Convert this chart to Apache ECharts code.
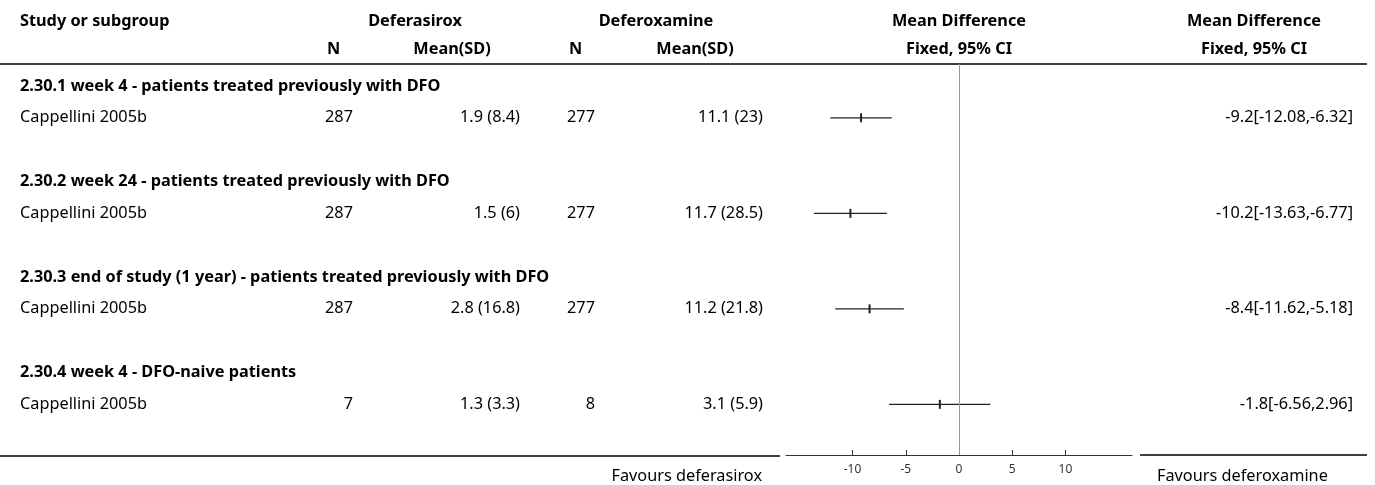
<!DOCTYPE html>
<html>
<head>
<meta charset="utf-8">
<script src="https://cdn.jsdelivr.net/npm/echarts@6/dist/echarts.min.js"></script>
<style>
html,body{margin:0;padding:0;background:#fff;}
#chart{width:1375px;height:485px;}
</style>
</head>
<body>
<div id="chart"></div>
<script>
// ---- data ----
const groups = [
  '2.30.1 week 4 - patients treated previously with DFO',
  '2.30.2 week 24 - patients treated previously with DFO',
  '2.30.3 end of study (1 year) - patients treated previously with DFO',
  '2.30.4 week 4 - DFO-naive patients'
];
const studies = ['Cappellini 2005b', 'Cappellini 2005b', 'Cappellini 2005b', 'Cappellini 2005b'];
const n1 = [287, 287, 287, 7];
const mean1 = ['1.9 (8.4)', '1.5 (6)', '2.8 (16.8)', '1.3 (3.3)'];
const n2 = [277, 277, 277, 8];
const mean2 = ['11.1 (23)', '11.7 (28.5)', '11.2 (21.8)', '3.1 (5.9)'];
const md = [-9.2, -10.2, -8.4, -1.8];
const ciLow = [-12.08, -13.63, -11.62, -6.56];
const ciHigh = [-6.32, -6.77, -5.18, 2.96];
const tickValues = [-10, -5, 0, 5, 10];
const favoursLeft = 'Favours deferasirox';
const favoursRight = 'Favours deferoxamine';

// ---- build ----
const FONT = '"Noto Sans", sans-serif';
const FS = 16.3;
const TXT = '#000';

const rowData = [];
groups.forEach((g, k) => {
  rowData.push({ type: 'group', row: 3 * k, label: g });
  rowData.push({ type: 'study', row: 3 * k + 1, k: k });
});

const ciData = md.map((m, k) => [m, ciLow[k], ciHigh[k], 3 * k + 1]);

function txt(x, y, s, align, bold) {
  return {
    type: 'text',
    style: {
      x: x, y: y, text: s, align: align, verticalAlign: 'middle',
      font: (bold ? 'bold ' : '') + FS + 'px ' + FONT, fill: TXT
    }
  };
}

const chart = echarts.init(document.getElementById('chart'), null, { renderer: 'canvas' });

const option = {
  animation: false,
  backgroundColor: '#fff',
  grid: { left: 786, width: 346, top: 64, height: 391, containLabel: false },
  xAxis: {
    type: 'value', min: -16.25, max: 16.25,
    axisLine: { show: true, onZero: false, lineStyle: { color: '#333', width: 1 } },
    axisTick: { show: true, inside: true, length: 5, customValues: tickValues, lineStyle: { color: '#333' } },
    axisLabel: { show: true, customValues: tickValues, margin: 9, fontSize: 12, color: '#333', fontFamily: FONT },
    splitLine: { show: false }
  },
  yAxis: {
    type: 'value', inverse: true, min: -0.69, max: 11.59, show: false
  },
  graphic: [
    txt(20, 21, 'Study or subgroup', 'left', true),
    txt(415, 21, 'Deferasirox', 'center', true),
    txt(656, 21, 'Deferoxamine', 'center', true),
    txt(959, 21, 'Mean Difference', 'center', true),
    txt(1254, 21, 'Mean Difference', 'center', true),
    txt(327, 49, 'N', 'left', true),
    txt(452, 49, 'Mean(SD)', 'center', true),
    txt(569, 49, 'N', 'left', true),
    txt(695, 49, 'Mean(SD)', 'center', true),
    txt(959, 49, 'Fixed, 95% CI', 'center', true),
    txt(1254, 49, 'Fixed, 95% CI', 'center', true),
    { type: 'line', shape: { x1: 0, y1: 64, x2: 1367, y2: 64 }, style: { stroke: '#000', lineWidth: 1.5 } },
    { type: 'line', shape: { x1: 0, y1: 456, x2: 780, y2: 456 }, style: { stroke: '#000', lineWidth: 1.5 } },
    { type: 'line', shape: { x1: 1140, y1: 455, x2: 1367, y2: 455 }, style: { stroke: '#000', lineWidth: 1.5 } },
    txt(762, 476, favoursLeft, 'right', false),
    txt(1157, 476, favoursRight, 'left', false)
  ],
  series: [
    {
      type: 'custom',
      name: 'table',
      clip: false,
      silent: true,
      data: rowData.map(r => [0, r.row]),
      encode: { x: 0, y: 1 },
      renderItem: function (params, api) {
        const r = rowData[params.dataIndex];
        const y = api.coord([0, r.row])[1];
        if (r.type === 'group') {
          return { type: 'group', children: [txt(20, y, r.label, 'left', true)] };
        }
        const k = r.k;
        return {
          type: 'group',
          children: [
            txt(20, y, studies[k], 'left', false),
            txt(353, y, String(n1[k]), 'right', false),
            txt(520, y, mean1[k], 'right', false),
            txt(595, y, String(n2[k]), 'right', false),
            txt(763, y, mean2[k], 'right', false),
            txt(1353, y, md[k] + '[' + ciLow[k] + ',' + ciHigh[k] + ']', 'right', false)
          ]
        };
      }
    },
    {
      type: 'custom',
      name: 'ci',
      clip: false,
      silent: true,
      data: ciData,
      encode: { x: [0, 1, 2], y: 3 },
      renderItem: function (params, api) {
        const m = api.value(0), lo = api.value(1), hi = api.value(2), row = api.value(3);
        const pLo = api.coord([lo, row]);
        const pHi = api.coord([hi, row]);
        const pM = api.coord([m, row]);
        return {
          type: 'group',
          children: [
            { type: 'line', shape: { x1: pLo[0], y1: pLo[1], x2: pHi[0], y2: pHi[1] }, style: { stroke: '#222', lineWidth: 1.2 } },
            { type: 'rect', shape: { x: pM[0] - 1, y: pM[1] - 4.5, width: 2, height: 9 }, style: { fill: '#222' } }
          ]
        };
      },
      markLine: {
        silent: true,
        symbol: 'none',
        label: { show: false },
        lineStyle: { color: '#999', width: 1, type: 'solid' },
        data: [{ xAxis: 0 }]
      }
    }
  ]
};
chart.setOption(option);
</script>
</body>
</html>
